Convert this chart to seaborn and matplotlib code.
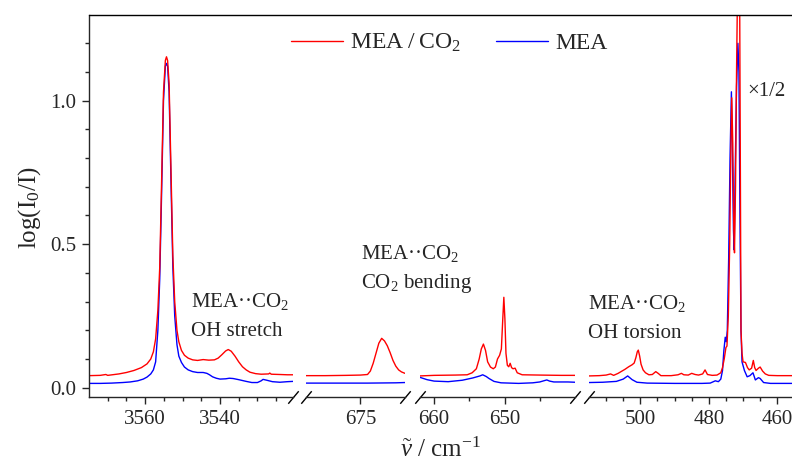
import numpy as np
import pandas as pd
import matplotlib
matplotlib.use("Agg")
import matplotlib.pyplot as plt
import seaborn as sns
from matplotlib.ticker import FixedLocator, NullLocator
from matplotlib.lines import Line2D

# ---------------- data ----------------
# OH stretch region
stretch_x_red = [3575, 3572, 3570.5, 3570, 3567, 3565, 3563, 3561, 3559.5, 3558.5, 3557.8, 3557.2,
                 3556.6, 3556.1, 3555.6, 3555.1, 3554.6, 3554.3, 3554.0, 3553.6, 3553.1, 3552.6,
                 3552.1, 3551.5, 3551.0, 3550.3, 3549.5, 3548.5, 3547.3, 3546, 3544.5, 3543,
                 3541.5, 3540.5, 3539.5, 3538.5, 3537.8, 3537, 3536, 3535, 3534, 3533, 3532,
                 3530.5, 3529, 3527, 3526.7, 3526.3, 3524, 3522, 3520.5]
stretch_red = [0.042, 0.043, 0.046, 0.043, 0.048, 0.053, 0.060, 0.070, 0.083, 0.100, 0.125, 0.17,
               0.27, 0.42, 0.72, 1.03, 1.14, 1.153, 1.14, 1.06, 0.76, 0.46,
               0.30, 0.20, 0.16, 0.13, 0.113, 0.103, 0.097, 0.095, 0.098, 0.096,
               0.097, 0.103, 0.115, 0.128, 0.133, 0.127, 0.110, 0.090, 0.073, 0.062, 0.054,
               0.049, 0.047, 0.048, 0.051, 0.047, 0.046, 0.045, 0.045]
stretch_x_blue = [3575, 3572, 3569, 3566, 3564, 3562, 3560.5, 3559.5, 3558.5, 3557.8, 3557.2, 3556.6,
                  3556.1, 3555.6, 3555.1, 3554.6, 3554.3, 3554.0, 3553.6, 3553.1, 3552.6, 3552.1,
                  3551.5, 3551.0, 3550.3, 3549.5, 3548.5, 3547.3, 3546, 3544.5, 3543.5, 3542.8,
                  3542, 3541, 3540, 3538.5, 3537.5, 3536.5, 3535, 3533, 3531.5, 3530, 3529,
                  3528.5, 3527.5, 3526, 3524, 3522, 3520.5]
stretch_blue = [0.015, 0.015, 0.016, 0.018, 0.020, 0.024, 0.030, 0.037, 0.048, 0.062, 0.09, 0.20,
                0.38, 0.68, 1.00, 1.12, 1.13, 1.12, 1.03, 0.72, 0.42, 0.25,
                0.15, 0.11, 0.088, 0.072, 0.062, 0.056, 0.053, 0.053, 0.050, 0.045,
                0.038, 0.033, 0.030, 0.031, 0.033, 0.032, 0.028, 0.022, 0.018, 0.018, 0.024,
                0.029, 0.026, 0.021, 0.019, 0.021, 0.022]

# CO2 bending region (upper part)
bend1_x_red = [682.7, 680, 677, 675, 674, 673.6, 673.2, 672.8, 672.4, 672.0, 671.6, 671.2,
               670.8, 670.4, 670.0, 669.6, 669.2, 668.7]
bend1_red = [0.042, 0.042, 0.043, 0.044, 0.046, 0.058, 0.085, 0.120, 0.155, 0.172, 0.163, 0.146,
             0.122, 0.095, 0.075, 0.062, 0.055, 0.050]
bend1_x_blue = [682.7, 678, 674, 670, 668.7]
bend1_blue = [0.016, 0.016, 0.016, 0.017, 0.018]

# CO2 bending region (lower part)
bend2_x_red = [662, 660, 657, 655.3, 654.6, 654.0, 653.6, 653.3, 653.0, 652.7, 652.4, 652.0,
               651.6, 651.3, 651.0, 650.7, 650.45, 650.25, 650.1, 649.95, 649.8, 649.6,
               649.4, 649.2, 649.0, 648.8, 648.5, 648.2, 647.5, 645, 642, 640]
bend2_red = [0.041, 0.043, 0.044, 0.045, 0.052, 0.066, 0.10, 0.135, 0.152, 0.13, 0.09, 0.072,
             0.066, 0.072, 0.10, 0.113, 0.135, 0.24, 0.315, 0.24, 0.12, 0.078,
             0.073, 0.085, 0.070, 0.066, 0.068, 0.052, 0.045, 0.044, 0.043, 0.043]
bend2_x_blue = [662, 661, 660, 658, 656, 654.5, 653.5, 653.1, 652.6, 652.2, 651.5, 650.5,
                648, 646, 645, 644.3, 644.0, 643.6, 643, 641, 640]
bend2_blue = [0.036, 0.028, 0.023, 0.021, 0.026, 0.034, 0.041, 0.045, 0.039, 0.032, 0.022, 0.017,
              0.015, 0.017, 0.020, 0.025, 0.027, 0.023, 0.020, 0.020, 0.019]

# OH torsion region
tors_x_red = [515, 512, 510, 508.7, 507.8, 506.5, 505.5, 504.5, 503.4, 502.4, 501.8, 501.3,
              500.9, 500.6, 500.2, 499.8, 499.2, 498.5, 497.5, 496.5, 495.5, 494.8, 494,
              491, 489, 488, 487.3, 486, 485, 484, 483, 481.8, 481.1, 480.4, 479, 477.6,
              476.5, 476, 475.5, 475.0, 474.7, 474.3, 473.9, 473.6, 473.3, 473.0, 472.7,
              472.5, 472.2, 471.9, 471.6, 471.3, 471.0, 470.8, 470.6, 470.3, 470.0, 469.3,
              468.7, 468.2, 467.5, 467.0, 466.6, 466.2, 465.5, 465.0, 464.3, 463.5, 462.5,
              460, 457, 455.7]
tors_red = [0.041, 0.042, 0.044, 0.048, 0.043, 0.050, 0.057, 0.064, 0.073, 0.080, 0.086, 0.105,
            0.125, 0.131, 0.11, 0.082, 0.062, 0.052, 0.045, 0.046, 0.056, 0.050, 0.042,
            0.042, 0.045, 0.050, 0.045, 0.044, 0.050, 0.046, 0.044, 0.048, 0.062, 0.046, 0.043, 0.044,
            0.052, 0.070, 0.10, 0.14, 0.145, 0.25, 0.50, 0.80, 1.01, 0.85, 0.55,
            0.47, 0.70, 1.10, 1.40, 1.45, 1.40, 0.80, 0.20, 0.12, 0.09, 0.088,
            0.07, 0.062, 0.068, 0.095, 0.07, 0.060, 0.068, 0.072, 0.058, 0.048, 0.043,
            0.042, 0.042, 0.042]
tors_x_blue = [515, 511, 507, 505, 503.7, 502.4, 501, 498, 490, 482, 479.6, 478.1, 477.2, 476.5,
               476.0, 475.6, 475.2, 474.9, 474.6, 474.2, 473.8, 473.4, 473.1, 472.8, 472.6,
               472.3, 471.9, 471.5, 471.2, 470.9, 470.6, 470.3, 469.6, 468.8, 468.0, 467.1,
               466.4, 465.5, 465.0, 464.0, 462, 458, 455.7]
tors_blue = [0.018, 0.019, 0.022, 0.030, 0.041, 0.028, 0.019, 0.016, 0.015, 0.015, 0.016, 0.024,
             0.021, 0.030, 0.060, 0.13, 0.176, 0.16, 0.20, 0.45, 0.80, 1.031, 0.80, 0.55, 0.48,
             0.75, 1.05, 1.20, 1.10, 0.60, 0.20, 0.09, 0.06, 0.038, 0.042, 0.052,
             0.027, 0.035, 0.032, 0.018, 0.015, 0.015, 0.015]

series_labels = ["MEA\u2009/\u2009CO$_2$", "MEA"]
series_colors = ["#ff0000", "#0000ff"]

seg_limits = [(3575, 3520.5), (682.7, 668.7), (662, 640), (515, 455.7)]
seg_major = [[3560, 3540], [675], [660, 650], [500, 480, 460]]
seg_minor = [[3570, 3565, 3555, 3550, 3545, 3535, 3530, 3525], [], [655, 645],
             [510, 505, 495, 490, 485, 475, 470, 465]]
seg_data = [
    (stretch_x_red, stretch_red, stretch_x_blue, stretch_blue),
    (bend1_x_red, bend1_red, bend1_x_blue, bend1_blue),
    (bend2_x_red, bend2_red, bend2_x_blue, bend2_blue),
    (tors_x_red, tors_red, tors_x_blue, tors_blue),
]
y_major = [0.0, 0.5, 1.0]
y_major_labels = ["0.0", "0.5", "1.0"]
y_minor = [0.1, 0.2, 0.3, 0.4, 0.6, 0.7, 0.8, 0.9, 1.1, 1.2]

# ---------------- style ----------------
sns.set_style("ticks")
plt.rcParams["font.family"] = ["Liberation Serif", "DejaVu Serif"]
plt.rcParams["mathtext.fontset"] = "custom"
plt.rcParams["mathtext.rm"] = "Liberation Serif"
plt.rcParams["mathtext.it"] = "Liberation Serif:italic"
plt.rcParams["mathtext.bf"] = "Liberation Serif:bold"
plt.rcParams["axes.linewidth"] = 1.0

W, H = 792, 463
fig = plt.figure(figsize=(W / 100, H / 100), dpi=100)

def fx(p):
    return p / W

def fy(p):
    return 1 - p / H

ax_px = [(89, 293), (306, 405), (420, 575), (589, 792)]
top_px, bot_px = 15, 397
axes = []
for i, (l, r) in enumerate(ax_px):
    ax = fig.add_axes([fx(l), 1 - bot_px / H, (r - l) / W, (bot_px - top_px) / H])
    xr, yr, xb, yb = seg_data[i]
    sns.lineplot(x=xb, y=yb, ax=ax, color=series_colors[1], lw=1.0, estimator=None)
    sns.lineplot(x=xr, y=yr, ax=ax, color=series_colors[0], lw=1.0, estimator=None)
    ax.set_xlim(*seg_limits[i])
    ax.set_ylim(-0.0324, 1.2986)
    ax.xaxis.set_major_locator(FixedLocator(seg_major[i]))
    ax.set_xticklabels([str(v) for v in seg_major[i]])
    ax.xaxis.set_minor_locator(FixedLocator(seg_minor[i]) if seg_minor[i] else NullLocator())
    ax.tick_params(axis="x", which="major", direction="out", length=5, width=1, labelsize=15, pad=4)
    ax.tick_params(axis="x", which="minor", direction="out", length=3, width=1)
    ax.set_xlabel("")
    ax.set_ylabel("")
    ax.spines["top"].set_visible(False)
    ax.spines["right"].set_visible(False)
    if i == 0:
        ax.yaxis.set_major_locator(FixedLocator(y_major))
        ax.set_yticklabels(y_major_labels)
        ax.yaxis.set_minor_locator(FixedLocator(y_minor))
        ax.tick_params(axis="y", which="major", direction="out", length=5, width=1, labelsize=15, pad=4)
        ax.tick_params(axis="y", which="minor", direction="out", length=3, width=1)
    else:
        ax.spines["left"].set_visible(False)
        ax.tick_params(axis="y", which="both", left=False, labelleft=False)
    ax.patch.set_alpha(0)
    # break marks
    mk = dict(marker=[(-1, -1.2), (1, 1.2)], markersize=9, linestyle="none",
              color="k", mec="k", mew=1, clip_on=False, transform=ax.transAxes)
    if i < 3:
        ax.plot([1], [0], **mk)
    if i > 0:
        ax.plot([0], [0], **mk)
    axes.append(ax)

# continuous top frame line
fig.add_artist(Line2D([fx(89), 1.0], [fy(top_px), fy(top_px)], transform=fig.transFigure,
                      color="k", lw=1.0))

# legend
handles = [Line2D([], [], color=series_colors[0], lw=1.0),
           Line2D([], [], color=series_colors[1], lw=1.0)]
fig.legend(handles, series_labels, loc="center", bbox_to_anchor=(fx(449), fy(43)),
           ncol=2, frameon=False, fontsize=17, handlelength=2.2, handletextpad=0.3,
           columnspacing=1.5)

# annotations
ann = [
    (191, 306.7, 336),
    (361, 259, 288.3),
    (588, 309.3, 338.3),
]
second = ["OH stretch", "CO$_2$ bending", "OH torsion"]
for (x, b1, b2), s in zip(ann, second):
    fig.text(fx(x), fy(b1), "MEA\u00b7\u00b7CO$_2$", fontsize=15, ha="left", va="baseline")
    fig.text(fx(x), fy(b2), s, fontsize=15, ha="left", va="baseline")
fig.text(fx(747), fy(92), "\u00d71/2", fontsize=15, ha="left", va="center")

# axis labels
fig.text(fx(30), fy(208), "log(I$_0$/I)", fontsize=18, rotation=90, ha="center", va="center")
fig.text(fx(440), fy(457), r"$\tilde{\nu}$ / cm$^{-1}$", fontsize=18, ha="center", va="baseline")

fig.savefig("out.png", dpi=100)
